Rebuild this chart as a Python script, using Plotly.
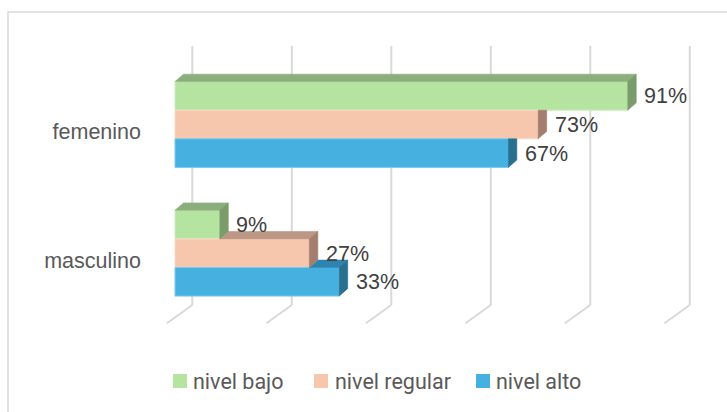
import plotly.graph_objects as go

# ---- data -------------------------------------------------------------
categories = ["femenino", "masculino"]
series_names = ["nivel bajo", "nivel regular", "nivel alto"]
nivel_bajo = [91, 9]
nivel_regular = [73, 27]
nivel_alto = [67, 33]
value_ticks = [0, 20, 40, 60, 80, 100]

series_values = [nivel_bajo, nivel_regular, nivel_alto]

# ---- style ------------------------------------------------------------
front_colors = ["#B5E4A0", "#F6C7AD", "#46B0E0"]
top_colors = ["#8CAE7C", "#BD9785", "#2C84B0"]
side_colors = ["#7A9B6A", "#A37E6E", "#28708F"]
edge_colors = ["#CBEEBD", "#FAD8C4", "#7CCAEC"]
grid_color = "#D9D9D9"
label_color = "#404040"
axis_text_color = "#595959"

W, H = 727, 412
M_L, M_R, M_T, M_B = 150, 17, 30, 72
PLOT_W = W - M_L - M_R
PLOT_H = H - M_T - M_B

PX_PER_X = 4.975          # pixels per percentage point
PX_PER_Y = 128.7          # pixels per category step
ZERO_PX = 175             # pixel column of 0 % on the bar fronts
FIRST_CAT_PX = 124.5      # pixel row of the first category centre

X_MIN = (M_L - ZERO_PX) / PX_PER_X
X_MAX = X_MIN + PLOT_W / PX_PER_X
N_CAT = len(categories)
Y_TOP = (N_CAT - 1) + (FIRST_CAT_PX - M_T) / PX_PER_Y
Y_BOT = Y_TOP - PLOT_H / PX_PER_Y

BAR_H = 28.6 / PX_PER_Y           # thickness of one bar
DEPTH_DX = 8.5 / PX_PER_X         # 3-D extrusion of the bars
DEPTH_DY = 7.4 / PX_PER_Y
LABEL_DX = 14.5 / PX_PER_X
LABEL_DY = -0.5 / PX_PER_Y

WALL_DX = 17.3 / PX_PER_X         # back wall offset from bar fronts
WALL_TOP = (N_CAT - 1) + (FIRST_CAT_PX - 46) / PX_PER_Y
WALL_BASE = (N_CAT - 1) + (FIRST_CAT_PX - 305) / PX_PER_Y
FLOOR_DX = -25.4 / PX_PER_X
FLOOR_DY = -18.3 / PX_PER_Y
CAT_LABEL_DY = -7.0 / PX_PER_Y


def px_to_paper(px, py):
    return (px - M_L) / PLOT_W, (H - M_B - py) / PLOT_H


cat_pos = [N_CAT - 1 - i for i in range(N_CAT)]
n_ser = len(series_names)
offsets = [((n_ser - 1) / 2 - s) * BAR_H for s in range(n_ser)]

fig = go.Figure()

# front faces of the bars
for s in range(n_ser):
    fig.add_trace(go.Bar(
        x=series_values[s],
        y=[c + offsets[s] for c in cat_pos],
        base=0,
        orientation="h",
        width=BAR_H,
        name=series_names[s],
        marker=dict(color=front_colors[s],
                    line=dict(color=edge_colors[s], width=1)),
        showlegend=False,
        hoverinfo="skip",
    ))


def poly(xs, ys, color):
    fig.add_trace(go.Scatter(
        x=xs + [xs[0]], y=ys + [ys[0]], mode="lines", fill="toself",
        fillcolor=color, line=dict(color=color, width=0.6),
        showlegend=False, hoverinfo="skip",
    ))


# top and side faces, drawn from the lowest bar of each group upwards
for ci, c in enumerate(cat_pos):
    for s in reversed(range(n_ser)):
        v = series_values[s][ci]
        yc = c + offsets[s]
        yb, yt = yc - BAR_H / 2, yc + BAR_H / 2
        above = series_values[s - 1][ci] if s > 0 else None
        # top face (only the part not hidden by the bar above)
        left = 0 if above is None else max(0, above)
        if v > left:
            poly([left, v, v + DEPTH_DX, left + DEPTH_DX],
                 [yt, yt, yt + DEPTH_DY, yt + DEPTH_DY], top_colors[s])
        # side face
        if above is not None and above >= v:
            poly([v, v, v + DEPTH_DX, v + DEPTH_DX],
                 [yb, yt, yt, yb + DEPTH_DY], side_colors[s])
        else:
            poly([v, v, v + DEPTH_DX, v + DEPTH_DX],
                 [yb, yt, yt + DEPTH_DY, yb + DEPTH_DY], side_colors[s])

# value labels
annotations = []
for s in range(n_ser):
    for ci, c in enumerate(cat_pos):
        v = series_values[s][ci]
        annotations.append(dict(
            x=v + LABEL_DX, y=c + offsets[s] + LABEL_DY,
            xref="x", yref="y", text=f"{v}%", showarrow=False,
            xanchor="left", yanchor="middle",
            font=dict(family="Liberation Sans, Arial, sans-serif",
                      size=21.5, color=label_color),
        ))

# back-wall gridlines and floor edges
shapes = []
for t in value_ticks:
    xw = t + WALL_DX
    shapes.append(dict(type="line", xref="x", yref="y", layer="below",
                       x0=xw, x1=xw, y0=WALL_BASE, y1=WALL_TOP,
                       line=dict(color=grid_color, width=2)))
    shapes.append(dict(type="line", xref="x", yref="y", layer="below",
                       x0=xw, x1=xw + FLOOR_DX, y0=WALL_BASE,
                       y1=WALL_BASE + FLOOR_DY,
                       line=dict(color=grid_color, width=2)))

# chart frame
fx0, fy0 = px_to_paper(8, 12)
fx1, fy1 = px_to_paper(W + 10, H + 10)
shapes.append(dict(type="rect", xref="paper", yref="paper", layer="below",
                   x0=fx0, x1=fx1, y0=fy1, y1=fy0,
                   line=dict(color=grid_color, width=1.5)))

# legend
legend_sq_px = [173, 314, 476]
legend_txt_px = [190.5, 333, 494]
for s in range(n_ser):
    x0, y0 = px_to_paper(legend_sq_px[s], 374)
    x1, y1 = px_to_paper(legend_sq_px[s] + 14, 388)
    shapes.append(dict(type="rect", xref="paper", yref="paper",
                       x0=x0, x1=x1, y0=y1, y1=y0,
                       fillcolor=front_colors[s], line=dict(width=0)))
    tx, ty = px_to_paper(legend_txt_px[s], 381)
    annotations.append(dict(
        x=tx, y=ty, xref="paper", yref="paper", text=series_names[s],
        showarrow=False, xanchor="left", yanchor="middle",
        font=dict(family="Roboto, sans-serif", size=21.5,
                  color=axis_text_color),
    ))

fig.update_layout(
    width=W, height=H,
    margin=dict(l=M_L, r=M_R, t=M_T, b=M_B, autoexpand=False),
    paper_bgcolor="white", plot_bgcolor="white",
    barmode="overlay",
    showlegend=False,
    xaxis=dict(range=[X_MIN, X_MAX], showgrid=False, zeroline=False,
               showticklabels=False, showline=False, fixedrange=True),
    yaxis=dict(range=[Y_BOT, Y_TOP], showgrid=False, zeroline=False,
               showline=False, ticks="",
               tickvals=[c + CAT_LABEL_DY for c in cat_pos],
               ticktext=categories, ticklabelstandoff=8,
               tickfont=dict(family="Liberation Sans, Arial, sans-serif",
                             size=21.5, color=axis_text_color),
               fixedrange=True),
    shapes=shapes,
    annotations=annotations,
)

fig.write_html("out.html")
